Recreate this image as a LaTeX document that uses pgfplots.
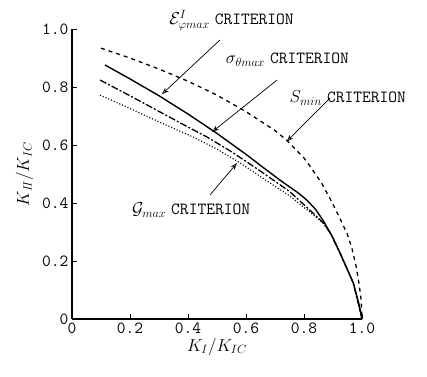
\documentclass[border=0pt]{standalone}
\usepackage{pgfplots}
\pgfplotsset{compat=1.18}
\usetikzlibrary{arrows.meta}
\begin{document}
\begin{tikzpicture}
\begin{axis}[
  scale only axis, width=290pt, height=290pt,
  xmin=0, xmax=1, ymin=0, ymax=1,
  axis lines=left, axis line style={-, line width=1.2pt},
  clip=false,
  xtick={0,0.2,0.4,0.6,0.8,1.0}, ytick={0,0.2,0.4,0.6,0.8,1.0},
  xticklabels={0,0.2,0.4,0.6,0.8,1.0},
  yticklabels={0,0.2,0.4,0.6,0.8,1.0},
  tick label style={font=\fontsize{17}{19}\selectfont\ttfamily},
  tick align=inside, major tick length=5pt,
  tick style={line width=0.8pt,black},
  xlabel={$K_I/K_{IC}$}, ylabel={$K_{I\!I}/K_{IC}$},
  label style={font=\fontsize{18}{20}\selectfont},
  xlabel style={yshift=2pt},
  ylabel style={yshift=2pt},
]
\path (axis cs:-0.248,-0.197) rectangle (axis cs:1.224,1.1);
% S_min (dashed)
\addplot[black, line width=1.3pt, dash pattern=on 4pt off 4pt] coordinates {
(0.1,0.934)(0.2,0.9)(0.3,0.862)(0.4,0.82)(0.5,0.772)(0.6,0.715)(0.7,0.65)(0.74,0.617)(0.8,0.555)(0.82,0.528)(0.86,0.47)(0.89,0.415)(0.92,0.355)(0.948,0.296)(0.965,0.245)(0.98,0.18)(0.99,0.12)(0.997,0.066)(1.0,0)};
% epsilon (solid)
\addplot[black, line width=1.4pt] coordinates {
(0.114,0.876)(0.2,0.828)(0.3,0.77)(0.4,0.707)(0.5,0.64)(0.6,0.568)(0.66,0.522)(0.72,0.477)(0.78,0.435)(0.81,0.41)(0.84,0.378)(0.866,0.34)(0.9,0.28)(0.924,0.228)(0.95,0.17)(0.97,0.124)(0.99,0.05)(1.0,0)};
% sigma (dash-dot)
\addplot[black, line width=1.3pt, dash pattern=on 7pt off 2pt on 2pt off 2pt] coordinates {
(0.097,0.824)(0.2,0.77)(0.3,0.716)(0.4,0.662)(0.465,0.628)(0.55,0.577)(0.65,0.51)(0.75,0.44)(0.82,0.376)(0.866,0.332)(0.89,0.298)(0.924,0.228)(0.97,0.124)(1.0,0)};
% G (dotted)
\addplot[black, line width=1.2pt, dash pattern=on 1pt off 2pt] coordinates {
(0.097,0.772)(0.2,0.726)(0.3,0.68)(0.417,0.628)(0.5,0.586)(0.58,0.538)(0.683,0.469)(0.75,0.425)(0.82,0.369)(0.866,0.331)(0.89,0.297)(0.924,0.228)(0.97,0.124)(1.0,0)};
% annotations
\node[anchor=base west, inner sep=0pt, font=\fontsize{17}{19}\selectfont] at (axis cs:0.335,1.015) {$\mathcal{E}^{I}_{\varphi max}$ \ttfamily CRITERION};
\draw[-{Stealth[open,length=7pt,width=5pt]}, line width=0.7pt] (axis cs:0.51,0.962) -- (axis cs:0.31,0.775);
\node[anchor=base west, inner sep=0pt, font=\fontsize{17}{19}\selectfont] at (axis cs:0.53,0.88) {$\sigma_{\theta max}$ \ttfamily CRITERION};
\draw[-{Stealth[open,length=7pt,width=5pt]}, line width=0.7pt] (axis cs:0.707,0.824) -- (axis cs:0.483,0.645);
\node[anchor=base west, inner sep=0pt, font=\fontsize{17}{19}\selectfont] at (axis cs:0.75,0.745) {$S_{min}$ \ttfamily CRITERION};
\draw[-{Stealth[open,length=7pt,width=5pt]}, line width=0.7pt] (axis cs:0.89,0.762) -- (axis cs:0.74,0.612);
\node[anchor=base west, inner sep=0pt, font=\fontsize{17}{19}\selectfont] at (axis cs:0.207,0.36) {$\mathcal{G}_{max}$ \ttfamily CRITERION};
\draw[-{Stealth[open,length=7pt,width=5pt]}, line width=0.7pt] (axis cs:0.476,0.428) -- (axis cs:0.569,0.538);
\end{axis}
\end{tikzpicture}
\end{document}
